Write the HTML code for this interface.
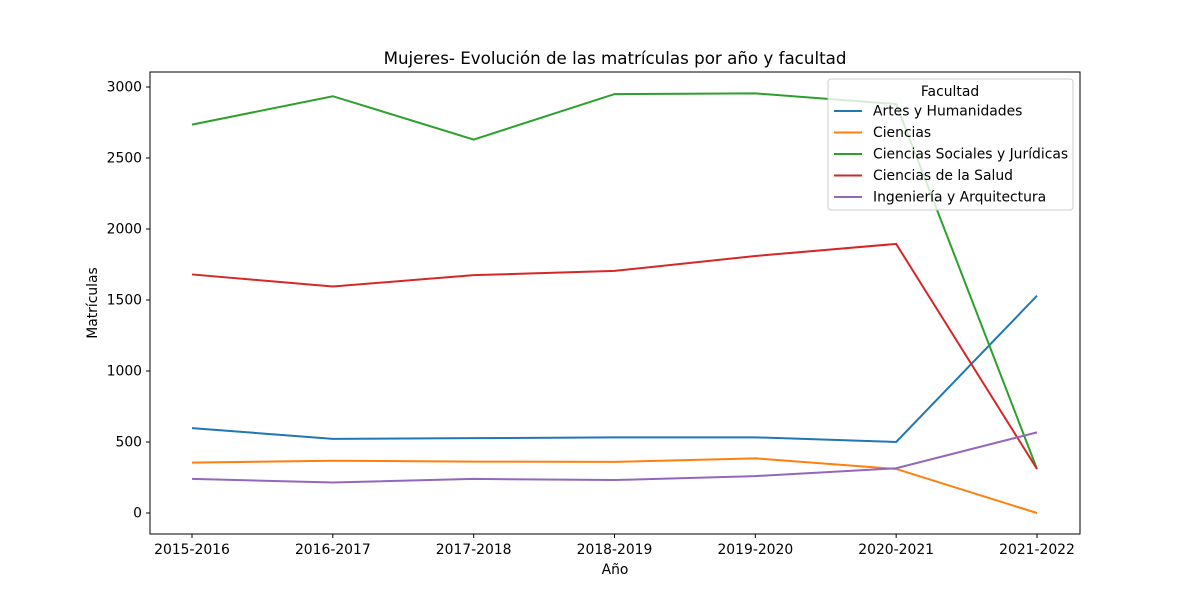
<!DOCTYPE html>
<html><head><meta charset="utf-8"><style>
body{margin:0;background:#fff;}
svg{font-family:"DejaVu Sans","Liberation Sans",sans-serif;}
</style></head><body>
<svg id="chart" width="1200" height="600" xmlns="http://www.w3.org/2000/svg">
<rect width="1200" height="600" fill="#fff"/>
<text x="615" y="64" text-anchor="middle" font-size="16.7">Mujeres- Evolución de las matrículas por año y facultad</text>
<g id="plot"></g>
<rect x="150" y="72" width="930" height="462" fill="none" stroke="#000" stroke-width="1"/>
<text x="615" y="574" text-anchor="middle" font-size="13.9">Año</text>
<text transform="translate(97,303) rotate(-90)" text-anchor="middle" font-size="13.9">Matrículas</text>
<g id="legend"></g>
</svg>
<script>
const categories=["2015-2016","2016-2017","2017-2018","2018-2019","2019-2020","2020-2021","2021-2022"];
const seriesNames=["Artes y Humanidades","Ciencias","Ciencias Sociales y Jurídicas","Ciencias de la Salud","Ingeniería y Arquitectura"];
const artes=[598,522,527,533,533,500,1530];
const ciencias=[355,368,362,360,385,310,0];
const sociales=[2735,2935,2630,2950,2955,2880,310];
const salud=[1680,1595,1675,1705,1810,1895,310];
const ingenieria=[240,215,240,232,260,315,568];
const yTicks=[0,500,1000,1500,2000,2500,3000];
const colors=["#1f77b4","#ff7f0e","#2ca02c","#d62728","#9467bd"];
const allSeries=[artes,ciencias,sociales,salud,ingenieria];
const NS="http://www.w3.org/2000/svg";
const x=i=>192+i*(1037-192)/(categories.length-1);
const y=v=>513-v*426/3000;
const plot=document.getElementById('plot');
function mk(tag,attrs,parent){const e=document.createElementNS(NS,tag);for(const k in attrs)e.setAttribute(k,attrs[k]);parent.appendChild(e);return e;}
yTicks.forEach(t=>{
  const g=mk('g',{},plot);
  
  
  mk('line',{x1:146,x2:150,y1:y(t),y2:y(t),stroke:'#000'},g);
  const tx=mk('text',{x:142,y:y(t)+4.5,'text-anchor':'end','font-size':'13.9'},g);tx.textContent=t;
});
categories.forEach((c,i)=>{
  const g=mk('g',{},plot);
  
  
  mk('line',{x1:x(i),x2:x(i),y1:534,y2:538,stroke:'#000'},g);
  const tx=mk('text',{x:x(i),y:554,'text-anchor':'middle','font-size':'13.9'},g);tx.textContent=c;
});
allSeries.forEach((s,k)=>{
  const p=mk('polyline',{points:s.map((v,i)=>x(i)+','+y(v)).join(' '),fill:'none',stroke:colors[k],'stroke-width':2},plot);
  
  
});
const lg=document.getElementById('legend');
mk('rect',{x:828,y:79,width:245,height:131,rx:3,fill:'#fff','fill-opacity':0.8,stroke:'#ccc'},lg);
const lt=mk('text',{x:950,y:96,'text-anchor':'middle','font-size':'13.9'},lg);lt.textContent='Facultad';
seriesNames.forEach((n,k)=>{
  const g=mk('g',{},lg);
  
  
  const yy=111+k*21.5;
  mk('line',{x1:834,x2:862,y1:yy,y2:yy,stroke:colors[k],'stroke-width':2},g);
  const t=mk('text',{x:873,y:yy+4.5,'font-size':'13.9'},g);t.textContent=n;
});
</script>
</body></html>
